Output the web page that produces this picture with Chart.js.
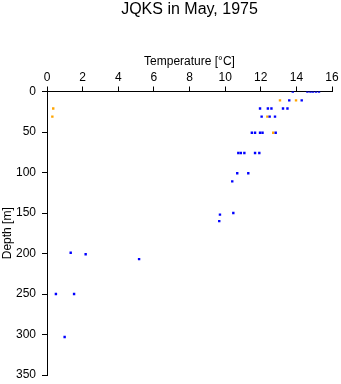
<!DOCTYPE html>
<html>
<head>
<meta charset="utf-8">
<script src="https://cdn.jsdelivr.net/npm/chart.js@4.4.0/dist/chart.umd.min.js"></script>
<style>
  html, body { margin: 0; padding: 0; background: #fff; }
  #wrap { width: 341px; height: 384px; }
</style>
</head>
<body>
<div id="wrap"><canvas id="c" width="341" height="384"></canvas></div>
<script>
const titleText = "JQKS in May, 1975";
const xTitle = "Temperature [°C]";
const yTitle = "Depth [m]";

const blueTemp  = [13.8, 14.62, 14.79, 14.93, 15.1, 15.27,
                   13.6, 14.3,
                   11.96, 12.4, 12.6, 13.25, 13.5,
                   12.05, 12.5, 12.8,
                   11.5, 11.68, 11.96, 12.1, 12.84,
                   10.74, 10.88, 11.08, 11.68, 11.92,
                   10.68, 11.3,
                   10.4,
                   10.46, 9.71, 9.67,
                   1.33, 2.17, 5.17,
                   0.5, 1.52,
                   0.99];
const blueDepth = [0, 0, 0, 0, 0, 0,
                   11, 11,
                   21, 21, 21, 21, 21,
                   31, 31, 31,
                   51, 51, 51, 51, 51,
                   76, 76, 76, 76, 76,
                   101, 101,
                   111,
                   150, 152, 160,
                   199, 201, 207,
                   250, 250,
                   303];

const orangeTemp  = [13.08, 13.98, 0.35, 12.37, 0.3, 12.7];
const orangeDepth = [11, 11, 21, 31, 31, 51];

const xMin = 0, xMax = 16, xStep = 2;
const yMin = 0, yMax = 350, yStep = 50;

function pts(xs, ys) { return xs.map((x, i) => ({x: x, y: ys[i]})); }

const FONT = "'Liberation Sans', Arial, Helvetica, sans-serif";

new Chart(document.getElementById('c'), {
  type: 'scatter',
  data: {
    datasets: [
      { data: pts(blueTemp, blueDepth), backgroundColor: '#0000ff', borderColor: '#0000ff',
        pointStyle: 'rect', pointRadius: 1.7, borderWidth: 0 },
      { data: pts(orangeTemp, orangeDepth), backgroundColor: '#ffa500', borderColor: '#ffa500',
        pointStyle: 'rect', pointRadius: 1.7, borderWidth: 0 }
    ]
  },
  options: {
    responsive: false,
    animation: false,
    devicePixelRatio: 1,
    layout: { padding: { left: 0, right: 9, top: 0, bottom: 9 } },
    plugins: {
      legend: { display: false },
      tooltip: { enabled: false },
      title: {
        display: true, text: titleText, color: '#000', fullSize: false,
        font: { family: FONT, size: 16, weight: 'normal', lineHeight: 1.2 },
        padding: { top: 0, bottom: 0 }
      }
    },
    scales: {
      x: {
        type: 'linear', position: 'top', min: xMin, max: xMax,
        ticks: { stepSize: xStep, color: '#000', padding: 2, maxRotation: 0,
                 font: { family: FONT, size: 12 } },
        grid: { drawOnChartArea: false, drawTicks: true, tickLength: 5, color: '#000', lineWidth: 1 },
        border: { display: true, color: '#000', width: 1 },
        title: { display: true, text: xTitle, color: '#000', padding: { top: 35, bottom: 0 },
                 font: { family: FONT, size: 12, lineHeight: 1.2 } },
        afterFit: s => { s.height = 72.3; s.paddingLeft = 0; s.paddingRight = 0; }
      },
      y: {
        type: 'linear', position: 'left', reverse: true, min: yMin, max: yMax,
        ticks: { stepSize: yStep, color: '#000', padding: 6,
                 font: { family: FONT, size: 12 } },
        grid: { drawOnChartArea: false, drawTicks: true, tickLength: 5, color: '#000', lineWidth: 1 },
        border: { display: true, color: '#000', width: 1 },
        title: { display: true, text: yTitle, color: '#000', padding: { top: 0, bottom: 0 },
                 font: { family: FONT, size: 12, lineHeight: 1.2 } },
        afterFit: s => { s.width = 47; s.paddingTop = 0; s.paddingBottom = 0; }
      }
    }
  }
});
</script>
</body>
</html>
